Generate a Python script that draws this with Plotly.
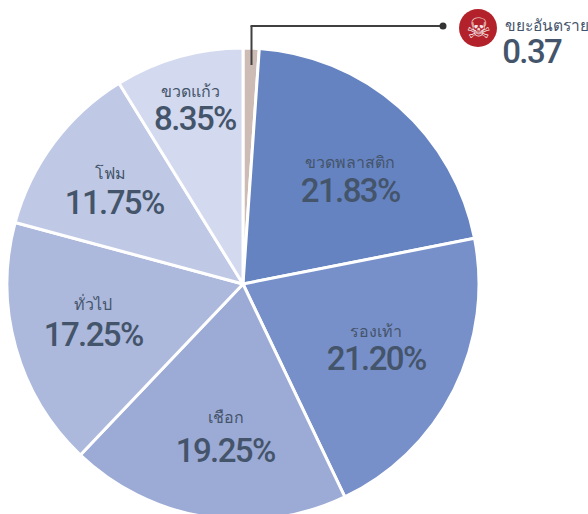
import plotly.graph_objects as go

W, H = 588, 526  # figure is taller than the window: the pie is cropped at the bottom
CX, CY, R = 243, 284, 236

categories = ["ขยะอันตราย", "ขวดพลาสติก", "รองเท้า", "เชือก", "ทั่วไป", "โฟม", "ขวดแก้ว"]
printed_values = ["0.37", "21.83%", "21.20%", "19.25%", "17.25%", "11.75%", "8.35%"]
drawn_shares = [1.1, 20.8, 21.0, 19.2, 17.1, 12.0, 8.8]
colors = ["#cdbbb5", "#6583c1", "#7890c9", "#9caad6", "#acb9dc", "#bfc9e5", "#d3d9ee"]

VALUE_SIZE = 33
# label placement: (x of category text, y of category text, x of value text, y of value text)
label_pos = [
    None,
    (350, 163, 350, 191),
    (376, 331, 376, 358),
    (226, 417, 225, 450),
    (93, 303, 93, 334),
    (110, 173, 114, 202),
    (190, 92, 195, 118),
]

FONT = "Roboto, 'Noto Sans', sans-serif"
TEXT = "#44546a"

fig = go.Figure(go.Pie(
    labels=categories,
    values=drawn_shares,
    sort=False,
    direction="clockwise",
    rotation=0,
    marker=dict(colors=colors, line=dict(color="white", width=3)),
    textinfo="none",
    hoverinfo="label",
    showlegend=False,
    domain=dict(x=[(CX - R) / W, (CX + R) / W], y=[1 - (CY + R) / H, 1 - (CY - R) / H]),
))

px = lambda x: x / W
py = lambda y: 1 - y / H

annotations = []
def label(x, y, text, size, anchor="center", weight=400):
    annotations.append(dict(x=px(x), y=py(y), xref="paper", yref="paper", text=text, showarrow=False,
                            xanchor=anchor, yanchor="middle",
                            font=dict(family=FONT, size=size, color=TEXT, weight=weight)))

for name, value, pos in zip(categories, printed_values, label_pos):
    if pos is None:
        continue
    x1, y1, x2, y2 = pos
    label(x1, y1, name, 16, weight=500)
    label(x2, y2, value, VALUE_SIZE, weight=500)

label(503, 26, categories[0], 15.5, "left", weight=500)
label(497, 52, printed_values[0], VALUE_SIZE, "left", weight=500)
annotations.append(dict(x=px(478), y=py(28), xref="paper", yref="paper", text="☠", showarrow=False,
                        xanchor="center", yanchor="middle", font=dict(family="DejaVu Sans", size=28, color="#f4e6e6")))

line = dict(color="#404040", width=2)
shapes = [
    dict(type="line", xref="paper", yref="paper", x0=px(251.5), x1=px(251.5), y0=py(65), y1=py(26), line=line),
    dict(type="line", xref="paper", yref="paper", x0=px(250.5), x1=px(443), y0=py(26), y1=py(26), line=line),
    dict(type="circle", xref="paper", yref="paper", x0=px(439.5), x1=px(446.5), y0=py(22.5), y1=py(29.5),
         fillcolor="#333333", line=dict(width=0)),
    dict(type="circle", xref="paper", yref="paper", x0=px(459), x1=px(497), y0=py(9), y1=py(47),
         fillcolor="#b3222a", line=dict(width=0)),
]

fig.update_layout(width=W, height=H, margin=dict(l=0, r=0, t=0, b=0), paper_bgcolor="white",
                  annotations=annotations, shapes=shapes)
css = ("body{margin:0}html,body{overflow:hidden}"
       'text.annotation-text[style*="font-size: %dpx"]{letter-spacing:-1.6px}' % VALUE_SIZE)
fig.write_html("out.html", config={"displayModeBar": False},
               post_script="var s=document.createElement('style');s.textContent=%r;document.head.appendChild(s);" % css)
